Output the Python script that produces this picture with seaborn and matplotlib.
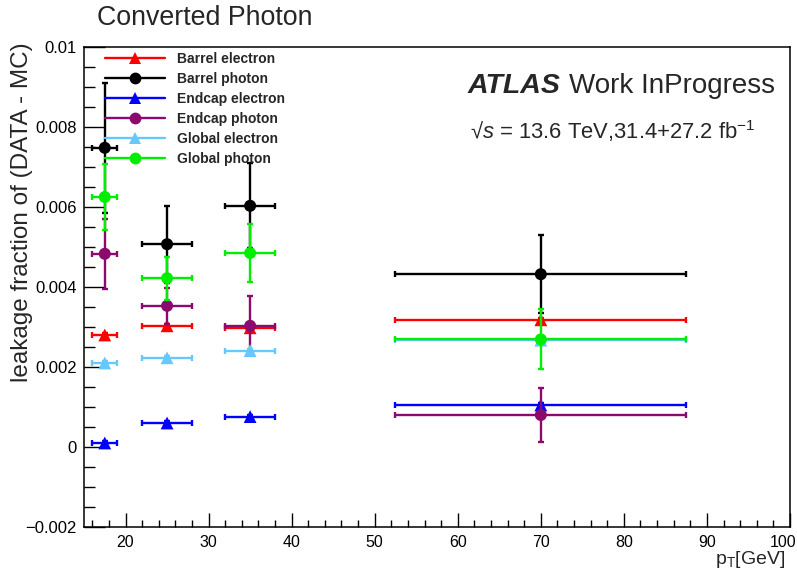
import numpy as np
import pandas as pd
import matplotlib
matplotlib.use("Agg")
import matplotlib.pyplot as plt
import seaborn as sns
from matplotlib.lines import Line2D
from matplotlib.transforms import ScaledTranslation
from matplotlib.ticker import MultipleLocator, FuncFormatter

# ---------------- data ----------------
pt = [17.5, 25, 35, 70]
pt_err = [1.5, 3, 3, 17.5]

series_names = ["Barrel electron", "Barrel photon", "Endcap electron",
                "Endcap photon", "Global electron", "Global photon"]

barrel_electron = [0.00280, 0.00303, 0.00298, 0.00318]
barrel_electron_err = [0.00005, 0.00005, 0.00005, 0.00005]
barrel_photon = [0.00748, 0.00507, 0.00603, 0.00432]
barrel_photon_err = [0.00163, 0.00096, 0.00106, 0.00097]
endcap_electron = [0.00010, 0.00060, 0.00076, 0.00105]
endcap_electron_err = [0.00005, 0.00005, 0.00005, 0.00005]
endcap_photon = [0.00483, 0.00353, 0.00303, 0.00080]
endcap_photon_err = [0.00087, 0.00045, 0.00074, 0.00067]
global_electron = [0.00210, 0.00223, 0.00241, 0.00267]
global_electron_err = [0.00005, 0.00005, 0.00005, 0.00005]
global_photon = [0.00625, 0.00422, 0.00485, 0.00269]
global_photon_err = [0.00082, 0.00054, 0.00072, 0.00075]

values = [barrel_electron, barrel_photon, endcap_electron,
          endcap_photon, global_electron, global_photon]
errors = [barrel_electron_err, barrel_photon_err, endcap_electron_err,
          endcap_photon_err, global_electron_err, global_photon_err]

colors = ["#ff0000", "#000000", "#0000ff", "#8a0a6e", "#66c8ff", "#00ee00"]
markers = ["^", "o", "^", "o", "^", "o"]

# ---------------- style ----------------
sns.set_theme(style="ticks")
plt.rcParams["font.family"] = ["Liberation Sans", "DejaVu Sans"]
plt.rcParams["mathtext.fontset"] = "custom"
plt.rcParams["mathtext.rm"] = "Liberation Sans"
plt.rcParams["mathtext.it"] = "Liberation Sans:italic"
plt.rcParams["mathtext.bf"] = "Liberation Sans:bold"

W, H = 797, 573
fig = plt.figure(figsize=(W / 100, H / 100), dpi=100)
fig.patch.set_facecolor("white")
L, R, T, B = 84, 790, 47, 527
ax = fig.add_axes([L / W, 1 - B / H, (R - L) / W, (B - T) / H])
ax.set_facecolor("white")

lw = 1.7
handles = []
for i, (name, vals, errs, c, m) in enumerate(zip(series_names, values, errors, colors, markers)):
    df = pd.DataFrame({"pt": pt, "frac": vals})
    ax.errorbar(pt, vals, xerr=pt_err, yerr=errs, fmt="none", ecolor=c,
                elinewidth=lw, capsize=2, capthick=lw, zorder=2 + 2 * i)
    sns.scatterplot(data=df, x="pt", y="frac", ax=ax, color=c, marker=m,
                    s=85 if m == "^" else 75, edgecolor="none", linewidth=0,
                    legend=False, zorder=3 + 2 * i)
    h = Line2D([0], [0], color=c, lw=lw, marker=m,
               markersize=9 if m == "^" else 8.5, markeredgewidth=0)
    handles.append(h)

ax.set_xlim(15, 100)
ax.set_ylim(-0.002, 0.01)
ax.xaxis.set_major_locator(MultipleLocator(10))
ax.xaxis.set_minor_locator(MultipleLocator(2))
ax.yaxis.set_major_locator(MultipleLocator(0.002))
ax.yaxis.set_minor_locator(MultipleLocator(0.0005))


def yfmt(v, pos):
    v = round(v, 6)
    if abs(v) < 1e-12:
        return "0"
    s = f"{v:g}"
    return s.replace("-", "\u2212")


ax.yaxis.set_major_formatter(FuncFormatter(yfmt))
ax.tick_params(axis="both", which="both", direction="in", top=False, right=False,
               colors="black", width=1.0, labelsize=12)
ax.tick_params(axis="x", which="major", length=10.3, pad=6, labelsize=11.5)
ax.tick_params(axis="x", which="minor", length=5.2)
ax.tick_params(axis="y", which="major", length=15.2, pad=5)
ax.tick_params(axis="y", which="minor", length=7.6)
for sp in ax.spines.values():
    sp.set_color("black")
    sp.set_linewidth(1.1)
ax.set_xlabel("")
ax.set_ylabel("")
ax.grid(False)

# keep the last x tick label ("100") inside the picture
fig.canvas.draw()
for tick in ax.xaxis.get_major_ticks():
    if abs(tick.get_loc() - 100) < 1e-9:
        lab = tick.label1
        lab.set_horizontalalignment("right")
        lab.set_transform(lab.get_transform() + ScaledTranslation(6 / 100, 0, fig.dpi_scale_trans))

# legend
ax.legend(handles, series_names, loc="upper left",
          bbox_to_anchor=(105 / W, 1 - 52 / H), bbox_transform=fig.transFigure,
          frameon=False, prop={"weight": "bold", "size": 10},
          handlelength=4.3, handletextpad=0.9, labelspacing=0.43,
          borderpad=0, borderaxespad=0)

# texts
fig.text(97 / W, 1 - 18 / H, "Converted Photon", fontsize=19.3, ha="left", va="center")
fig.text(468 / W, 1 - 86 / H, "ATLAS", fontsize=20.5, weight="bold", style="italic",
         ha="left", va="center")
fig.text(569 / W, 1 - 86 / H, "Work InProgress", fontsize=20, ha="left", va="center")
fig.text(470 / W, 1 - 131 / H, "\u221a$\\mathit{s}$ = 13.6 TeV,31.4+27.2 fb$^{-1}$",
         fontsize=15.8, ha="left", va="center")
fig.text(785 / W, 1 - 560 / H, "p$_{\\mathrm{T}}$[GeV]", fontsize=14, ha="right", va="center")
fig.text(22 / W, 1 - 42 / H, "leakage fraction of (DATA - MC)", fontsize=17.5,
         rotation=90, ha="center", va="top")

fig.savefig("out.png", dpi=100, facecolor="white")
